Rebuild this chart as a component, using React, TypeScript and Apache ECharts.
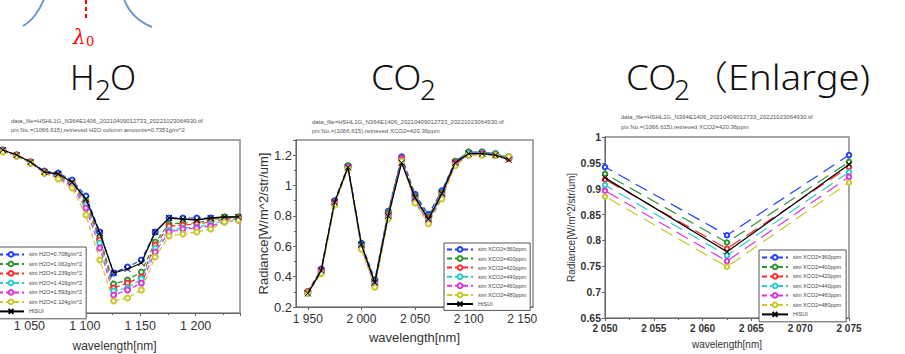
import React, { useEffect, useRef } from 'react';
import * as echarts from 'echarts';

// ---------- H2O panel data ----------
const h2oWavelength = [1026, 1038.5, 1051, 1063.5, 1076, 1088.5, 1101, 1113.5, 1126, 1138.5, 1151, 1163.5, 1176, 1188.5, 1201, 1213.5, 1226, 1238.5];
const h2oSeriesNames = ['sim H2O=0.708g/m^2', 'sim H2O=1.062g/m^2', 'sim H2O=1.239g/m^2', 'sim H2O=1.416g/m^2', 'sim H2O=1.593g/m^2', 'sim H2O=2.124g/m^2', 'HISUI'];
const h2oSim0708 = [1.63, 1.58, 1.51, 1.42, 1.40, 1.33, 1.17, 0.81, 0.40, 0.46, 0.53, 0.81, 0.95, 0.95, 0.95, 0.95, 0.96, 0.96];
const h2oSim1062 = [1.63, 1.58, 1.51, 1.41, 1.38, 1.30, 1.12, 0.76, 0.29, 0.33, 0.41, 0.71, 0.89, 0.90, 0.90, 0.93, 0.96, 0.96];
const h2oSim1239 = [1.62, 1.58, 1.51, 1.41, 1.37, 1.29, 1.10, 0.73, 0.25, 0.30, 0.36, 0.68, 0.87, 0.88, 0.89, 0.91, 0.94, 0.95];
const h2oSim1416 = [1.62, 1.57, 1.50, 1.40, 1.36, 1.28, 1.08, 0.70, 0.22, 0.25, 0.34, 0.65, 0.83, 0.85, 0.86, 0.89, 0.92, 0.94];
const h2oSim1593 = [1.62, 1.57, 1.50, 1.40, 1.35, 1.27, 1.05, 0.65, 0.18, 0.23, 0.30, 0.61, 0.81, 0.84, 0.85, 0.87, 0.91, 0.93];
const h2oSim2124 = [1.61, 1.57, 1.50, 1.40, 1.34, 1.25, 0.98, 0.53, 0.12, 0.15, 0.23, 0.56, 0.77, 0.79, 0.81, 0.84, 0.91, 0.93];
const h2oHisui = [1.63, 1.58, 1.51, 1.41, 1.39, 1.31, 1.14, 0.80, 0.40, 0.44, 0.50, 0.81, 0.95, 0.94, 0.93, 0.95, 0.96, 0.96];
const h2oXTickLabels = [1050, 1100, 1150, 1200];

// ---------- CO2 panel data ----------
const co2Wavelength = [1950, 1962.5, 1975, 1987.5, 2000, 2012.5, 2025, 2037.5, 2050, 2062.5, 2075, 2087.5, 2100, 2112.5, 2125, 2137.5];
const co2SeriesNames = ['sim XCO2=360ppm', 'sim XCO2=400ppm', 'sim XCO2=420ppm', 'sim XCO2=440ppm', 'sim XCO2=460ppm', 'sim XCO2=480ppm', 'HISUI'];
const co2Sim360 = [0.30, 0.45, 0.90, 1.13, 0.62, 0.38, 0.83, 1.19, 0.942, 0.810, 0.965, 1.16, 1.22, 1.22, 1.21, 1.18];
const co2Sim400 = [0.30, 0.44, 0.89, 1.13, 0.61, 0.37, 0.82, 1.18, 0.929, 0.796, 0.952, 1.16, 1.22, 1.22, 1.21, 1.18];
const co2Sim420 = [0.30, 0.44, 0.89, 1.12, 0.60, 0.36, 0.81, 1.18, 0.918, 0.784, 0.942, 1.15, 1.21, 1.21, 1.20, 1.18];
const co2Sim440 = [0.29, 0.43, 0.88, 1.12, 0.60, 0.35, 0.80, 1.17, 0.907, 0.771, 0.932, 1.14, 1.21, 1.21, 1.20, 1.19];
const co2Sim460 = [0.29, 0.43, 0.88, 1.12, 0.59, 0.34, 0.79, 1.17, 0.896, 0.760, 0.923, 1.14, 1.20, 1.21, 1.20, 1.19];
const co2Sim480 = [0.29, 0.42, 0.87, 1.11, 0.58, 0.33, 0.78, 1.16, 0.885, 0.749, 0.912, 1.13, 1.20, 1.20, 1.20, 1.19];
const co2Hisui = [0.29, 0.44, 0.89, 1.12, 0.61, 0.36, 0.80, 1.15, 0.921, 0.778, 0.947, 1.15, 1.21, 1.21, 1.20, 1.17];
const co2XTickLabels = [1950, 2000, 2050, 2100, 2150];

const SIM_COLORS = ['#2040ff', '#2e962e', '#ff2a2a', '#2ccccc', '#e030e0', '#c8c828'];
const FONT = "'Liberation Sans', Arial, sans-serif";
const TITLE_FONT = "'Noto Sans', 'Noto Sans CJK JP', sans-serif";
// the chart canvas starts 29px left of the page so the H2O plot can be cut at the page edge
const OX = 29;

const fmtThousands = (v: number) => {
  const s = String(Math.round(v));
  return s.length > 3 ? s.slice(0, -3) + ' ' + s.slice(-3) : s;
};

function buildSeries(
  names: string[],
  xs: number[],
  values: number[][],
  axisIndex: number,
  dash: number[],
  symSize: number
) {
  return values.map((ys, i) => {
    const isHisui = i === values.length - 1;
    const color = isHisui ? '#000000' : SIM_COLORS[i];
    return {
      type: 'line',
      name: names[i],
      xAxisIndex: axisIndex,
      yAxisIndex: axisIndex,
      data: xs.map((x, k) => [x, ys[k]]),
      symbol: isHisui ? 'path://M0,0L10,10M10,0L0,10' : 'emptyCircle',
      symbolSize: isHisui ? symSize + 1 : symSize,
      showAllSymbol: true,
      clip: true,
      z: isHisui ? 5 : 3,
      lineStyle: { color, width: isHisui ? 1.3 : 1.2, type: isHisui ? 'solid' : dash },
      itemStyle: { color: isHisui ? '#000' : color, borderColor: color, borderWidth: 1 },
      emphasis: { disabled: true },
    };
  });
}

export default function App() {
  const ref = useRef<HTMLDivElement>(null);

  useEffect(() => {
    if (!ref.current) return;
    const chart = echarts.init(ref.current, undefined, { renderer: 'svg' });

    const h2oValues = [h2oSim0708, h2oSim1062, h2oSim1239, h2oSim1416, h2oSim1593, h2oSim2124, h2oHisui];
    const co2Values = [co2Sim360, co2Sim400, co2Sim420, co2Sim440, co2Sim460, co2Sim480, co2Hisui];

    const axisLineStyle = { lineStyle: { color: '#666', width: 1 } };
    const axisTickStyle = { show: true, length: 3, lineStyle: { color: '#666' } };

    const headerText = (x: number, y: number, t: string) => ({
      type: 'text',
      x: x + OX,
      y,
      style: { text: t, fontSize: 6, fill: '#555', fontFamily: FONT, textVerticalAlign: 'middle' },
      silent: true,
    });
    const titleText = (x: number, y: number, t: string, size: number, sx = 1) => ({
      type: 'text',
      x: x + OX,
      y,
      scaleX: sx,
      style: { text: t, fontSize: size, fill: '#111', fontFamily: TITLE_FONT, fontWeight: 300, textVerticalAlign: 'middle' },
      silent: true,
    });

    const legendBase = {
      orient: 'vertical',
      itemWidth: 26,
      itemHeight: 6,
      borderColor: '#555',
      borderWidth: 1,
      backgroundColor: '#fff',
      selectedMode: false,
      textStyle: { fontSize: 5.5, color: '#444', fontFamily: FONT },
      z: 10,
    };

    const option = {
      animation: false,
      backgroundColor: '#ffffff',
      textStyle: { fontFamily: FONT },
      grid: [
        { left: 0, top: 140, width: 269, height: 173, show: true, borderColor: '#8a8a8a', borderWidth: 1.5, backgroundColor: 'transparent' },
        { left: 296 + OX, top: 140, width: 237, height: 167, show: true, borderColor: '#8a8a8a', borderWidth: 1.5, backgroundColor: 'transparent' },
        { left: 605 + OX, top: 137, width: 244, height: 181, show: true, borderColor: '#8a8a8a', borderWidth: 1.5, backgroundColor: 'transparent' },
      ],
      xAxis: [
        {
          gridIndex: 0, type: 'value', min: 1000, max: 1240, interval: 50,
          axisLine: axisLineStyle, axisTick: axisTickStyle,
          minorTick: { show: true, splitNumber: 2, length: 2, lineStyle: { color: '#666' } },
          splitLine: { show: false },
          axisLabel: {
            fontSize: 12.5, color: '#333', margin: 6,
            formatter: (v: number) => (h2oXTickLabels.includes(v) ? fmtThousands(v) : ''),
          },
          name: 'wavelength[nm]', nameLocation: 'middle', nameGap: 27,
          nameTextStyle: { fontSize: 12, color: '#333', padding: [0, 0, 0, 15] },
        },
        {
          gridIndex: 1, type: 'value', min: 1939, max: 2160,
          axisLine: axisLineStyle,
          axisTick: { ...axisTickStyle, customValues: co2XTickLabels },
          splitLine: { show: false },
          axisLabel: {
            fontSize: 12, color: '#333', margin: 6, customValues: co2XTickLabels,
            formatter: (v: number) => fmtThousands(v),
          },
          name: 'wavelength[nm]', nameLocation: 'middle', nameGap: 24,
          nameTextStyle: { fontSize: 13, color: '#333' },
        },
        {
          gridIndex: 2, type: 'value', min: 2050, max: 2075, interval: 5,
          axisLine: axisLineStyle, axisTick: axisTickStyle,
          minorTick: { show: true, splitNumber: 2, length: 2, lineStyle: { color: '#666' } },
          splitLine: { show: false },
          axisLabel: {
            fontSize: 10, fontWeight: 'bold', color: '#333', margin: 5,
            formatter: (v: number) => fmtThousands(v),
          },
          name: 'wavelength[nm]', nameLocation: 'middle', nameGap: 21,
          nameTextStyle: { fontSize: 10, color: '#333' },
        },
      ],
      yAxis: [
        { gridIndex: 0, type: 'value', min: 0, max: 1.73, show: false, splitLine: { show: false } },
        {
          gridIndex: 1, type: 'value', min: 0.2, max: 1.3, interval: 0.2,
          axisLine: { show: true, ...axisLineStyle }, axisTick: axisTickStyle,
          minorTick: { show: true, splitNumber: 2, length: 2, lineStyle: { color: '#666' } },
          splitLine: { show: false },
          axisLabel: { fontSize: 13, color: '#333', margin: 4, showMaxLabel: false },
          name: 'Radiance[W/m^2/str/um]', nameLocation: 'middle', nameGap: 24,
          nameTextStyle: { fontSize: 13, color: '#333' },
        },
        {
          gridIndex: 2, type: 'value', min: 0.65, max: 1, interval: 0.05,
          axisLine: { show: true, ...axisLineStyle }, axisTick: axisTickStyle,
          splitLine: { show: false },
          axisLabel: { fontSize: 10.5, fontWeight: 'bold', color: '#333', margin: 4 },
          name: 'Radiance[W/m^2/str/um]', nameLocation: 'middle', nameGap: 29,
          nameTextStyle: { fontSize: 10, color: '#333' },
        },
      ],
      legend: [
        { ...legendBase, data: h2oSeriesNames, left: -6 + OX, top: 247, itemGap: 2.7, padding: [4, 4, 4, 3] },
        { ...legendBase, data: co2SeriesNames, left: 444 + OX, top: 243, itemGap: 2.3, padding: [3, 4, 3, 2] },
        { ...legendBase, data: co2SeriesNames, left: 759 + OX, top: 250, itemGap: 2.7, padding: [4, 5, 4, 2] },
      ],
      series: [
        ...buildSeries(h2oSeriesNames, h2oWavelength, h2oValues, 0, [5, 3], 5),
        ...buildSeries(co2SeriesNames, co2Wavelength, co2Values, 1, [5, 3], 5),
        ...buildSeries(co2SeriesNames, co2Wavelength, co2Values, 2, [13, 7], 4.5),
      ],
      graphic: [
        {
          type: 'bezierCurve', silent: true,
          shape: { x1: 23 + OX, y1: 26, cpx1: 32 + OX, cpy1: 21, cpx2: 40 + OX, cpy2: 10, x2: 44 + OX, y2: -1 },
          style: { stroke: '#6f98cf', lineWidth: 2, fill: 'none' },
        },
        {
          type: 'bezierCurve', silent: true,
          shape: { x1: 124 + OX, y1: -1, cpx1: 128 + OX, cpy1: 10, cpx2: 137 + OX, cpy2: 21, x2: 152 + OX, y2: 27 },
          style: { stroke: '#6f98cf', lineWidth: 2, fill: 'none' },
        },
        {
          type: 'line', silent: true,
          shape: { x1: 86 + OX, y1: 0, x2: 86 + OX, y2: 18 },
          style: { stroke: '#ff0000', lineWidth: 2, lineDash: [4, 3] },
        },
        {
          type: 'text', x: 73 + OX, y: 37, silent: true,
          style: { text: 'λ', fontSize: 20, fontStyle: 'italic', fill: '#ff0000', fontFamily: "'DejaVu Serif', serif", textVerticalAlign: 'middle' },
        },
        {
          type: 'text', x: 86 + OX, y: 41, silent: true,
          style: { text: '0', fontSize: 13, fill: '#ff0000', fontFamily: "'DejaVu Serif', serif", textVerticalAlign: 'middle' },
        },
        titleText(70, 77, 'H', 34),
        titleText(95, 89, '2', 28),
        titleText(110, 77, 'O', 34),
        titleText(371, 77, 'CO', 34, 1.08),
        titleText(420, 89, '2', 28),
        titleText(626, 77, 'CO', 34, 1.08),
        titleText(674, 89, '2', 28),
        titleText(690, 77, '（Enlarge)', 34, 1.12),
        headerText(11, 121, 'data_file=HSHL1G_N364E1406_20210409012733_20221023064930.tif'),
        headerText(11, 130, 'pix No.=(1066,615),retrieved H2O column amounts=0.7351g/m^2'),
        headerText(312, 121.7, 'data_file=HSHL1G_N364E1406_20210409012733_20221023064930.tif'),
        headerText(312, 130.7, 'pix No.=(1066,615),retrieved XCO2=420.36ppm'),
        headerText(621, 117, 'data_file=HSHL1G_N364E1406_20210409012733_20221023064930.tif'),
        headerText(621, 127, 'pix No.=(1066,615),retrieved XCO2=420.36ppm'),
      ],
    };

    chart.setOption(option as any);
    return () => chart.dispose();
  }, []);

  return (
    <div
      ref={ref}
      style={{ position: 'fixed', left: -OX, top: 0, width: 905 + OX, height: 354, background: '#fff' }}
    />
  );
}
